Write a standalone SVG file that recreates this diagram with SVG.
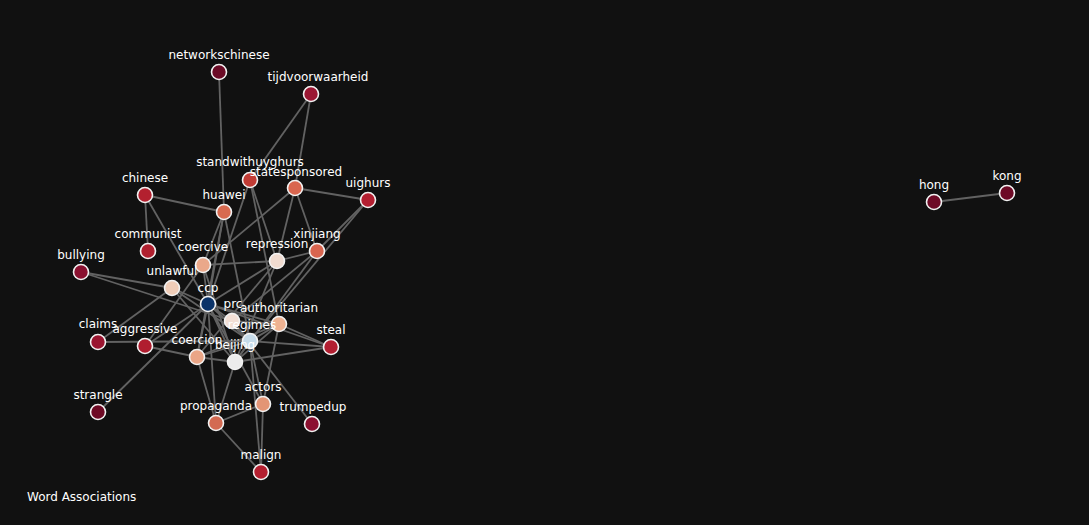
<svg xmlns="http://www.w3.org/2000/svg" width="1089" height="525" viewBox="0 0 1089 525">
<style>
.e{stroke:#626262;stroke-width:1.8;fill:none}
.n{stroke:#f2f2f2;stroke-width:1.6}
.t{font-family:"DejaVu Sans","Liberation Sans",sans-serif;font-size:12px;fill:#ffffff;text-anchor:middle}
.title{font-family:"DejaVu Sans","Liberation Sans",sans-serif;font-size:12px;fill:#ffffff}
</style>
<rect width="1089" height="525" fill="#111111"/>
<g id="edges">
<line class="e" x1="934" y1="202" x2="1007" y2="193"/>
<line class="e" x1="219" y1="72" x2="224" y2="212"/>
<line class="e" x1="311" y1="94" x2="250" y2="180"/>
<line class="e" x1="311" y1="94" x2="295" y2="188"/>
<line class="e" x1="145" y1="195" x2="224" y2="212"/>
<line class="e" x1="145" y1="195" x2="148" y2="251"/>
<line class="e" x1="145" y1="195" x2="208" y2="304"/>
<line class="e" x1="295" y1="188" x2="368" y2="200"/>
<line class="e" x1="295" y1="188" x2="317" y2="251"/>
<line class="e" x1="295" y1="188" x2="277" y2="261"/>
<line class="e" x1="295" y1="188" x2="203" y2="265"/>
<line class="e" x1="368" y1="200" x2="317" y2="251"/>
<line class="e" x1="368" y1="200" x2="250" y2="341"/>
<line class="e" x1="250" y1="180" x2="277" y2="261"/>
<line class="e" x1="250" y1="180" x2="208" y2="304"/>
<line class="e" x1="250" y1="180" x2="279" y2="324"/>
<line class="e" x1="224" y1="212" x2="203" y2="265"/>
<line class="e" x1="224" y1="212" x2="208" y2="304"/>
<line class="e" x1="224" y1="212" x2="250" y2="341"/>
<line class="e" x1="224" y1="212" x2="197" y2="357"/>
<line class="e" x1="317" y1="251" x2="277" y2="261"/>
<line class="e" x1="317" y1="251" x2="235" y2="362"/>
<line class="e" x1="317" y1="251" x2="232" y2="321"/>
<line class="e" x1="277" y1="261" x2="203" y2="265"/>
<line class="e" x1="277" y1="261" x2="208" y2="304"/>
<line class="e" x1="277" y1="261" x2="235" y2="362"/>
<line class="e" x1="277" y1="261" x2="197" y2="357"/>
<line class="e" x1="81" y1="272" x2="172" y2="288"/>
<line class="e" x1="81" y1="272" x2="232" y2="321"/>
<line class="e" x1="172" y1="288" x2="208" y2="304"/>
<line class="e" x1="172" y1="288" x2="250" y2="341"/>
<line class="e" x1="172" y1="288" x2="98" y2="342"/>
<line class="e" x1="172" y1="288" x2="235" y2="362"/>
<line class="e" x1="203" y1="265" x2="208" y2="304"/>
<line class="e" x1="203" y1="265" x2="235" y2="362"/>
<line class="e" x1="203" y1="265" x2="145" y2="346"/>
<line class="e" x1="98" y1="342" x2="250" y2="341"/>
<line class="e" x1="145" y1="346" x2="208" y2="304"/>
<line class="e" x1="145" y1="346" x2="197" y2="357"/>
<line class="e" x1="98" y1="412" x2="208" y2="304"/>
<line class="e" x1="208" y1="304" x2="232" y2="321"/>
<line class="e" x1="208" y1="304" x2="250" y2="341"/>
<line class="e" x1="208" y1="304" x2="235" y2="362"/>
<line class="e" x1="208" y1="304" x2="279" y2="324"/>
<line class="e" x1="208" y1="304" x2="331" y2="347"/>
<line class="e" x1="208" y1="304" x2="216" y2="423"/>
<line class="e" x1="208" y1="304" x2="263" y2="404"/>
<line class="e" x1="208" y1="304" x2="197" y2="357"/>
<line class="e" x1="232" y1="321" x2="250" y2="341"/>
<line class="e" x1="232" y1="321" x2="279" y2="324"/>
<line class="e" x1="232" y1="321" x2="312" y2="424"/>
<line class="e" x1="250" y1="341" x2="279" y2="324"/>
<line class="e" x1="250" y1="341" x2="331" y2="347"/>
<line class="e" x1="250" y1="341" x2="263" y2="404"/>
<line class="e" x1="250" y1="341" x2="261" y2="472"/>
<line class="e" x1="250" y1="341" x2="197" y2="357"/>
<line class="e" x1="250" y1="341" x2="235" y2="362"/>
<line class="e" x1="197" y1="357" x2="235" y2="362"/>
<line class="e" x1="197" y1="357" x2="216" y2="423"/>
<line class="e" x1="197" y1="357" x2="279" y2="324"/>
<line class="e" x1="235" y1="362" x2="216" y2="423"/>
<line class="e" x1="235" y1="362" x2="279" y2="324"/>
<line class="e" x1="235" y1="362" x2="331" y2="347"/>
<line class="e" x1="279" y1="324" x2="331" y2="347"/>
<line class="e" x1="279" y1="324" x2="263" y2="404"/>
<line class="e" x1="263" y1="404" x2="216" y2="423"/>
<line class="e" x1="263" y1="404" x2="261" y2="472"/>
<line class="e" x1="216" y1="423" x2="261" y2="472"/>
</g>
<g id="n-networkschinese"><circle class="n" cx="219" cy="72" r="7.5" fill="#6b0b26"/><text class="t" x="219" y="59">networkschinese</text></g>
<g id="n-tijdvoorwaarheid"><circle class="n" cx="311" cy="94" r="7.5" fill="#9b1733"/><text class="t" x="318" y="81">tijdvoorwaarheid</text></g>
<g id="n-standwithuyghurs"><circle class="n" cx="250" cy="180" r="7.5" fill="#c13c35"/><text class="t" x="250" y="166">standwithuyghurs</text></g>
<g id="n-statesponsored"><circle class="n" cx="295" cy="188" r="7.5" fill="#d9664f"/><text class="t" x="296" y="176">statesponsored</text></g>
<g id="n-uighurs"><circle class="n" cx="368" cy="200" r="7.5" fill="#b41f31"/><text class="t" x="368" y="187">uighurs</text></g>
<g id="n-chinese"><circle class="n" cx="145" cy="195" r="7.5" fill="#b3202f"/><text class="t" x="145" y="182">chinese</text></g>
<g id="n-huawei"><circle class="n" cx="224" cy="212" r="7.5" fill="#d86a50"/><text class="t" x="224" y="199">huawei</text></g>
<g id="n-communist"><circle class="n" cx="148" cy="251" r="7.5" fill="#b0202f"/><text class="t" x="148" y="238">communist</text></g>
<g id="n-coercive"><circle class="n" cx="203" cy="265" r="7.5" fill="#eaa88a"/><text class="t" x="203" y="251">coercive</text></g>
<g id="n-repression"><circle class="n" cx="277" cy="261" r="7.5" fill="#f0dbd0"/><text class="t" x="277" y="248">repression</text></g>
<g id="n-xinjiang"><circle class="n" cx="317" cy="251" r="7.5" fill="#d8654f"/><text class="t" x="317" y="238">xinjiang</text></g>
<g id="n-bullying"><circle class="n" cx="81" cy="272" r="7.5" fill="#8a1130"/><text class="t" x="81" y="259">bullying</text></g>
<g id="n-unlawful"><circle class="n" cx="172" cy="288" r="7.5" fill="#f0cdb8"/><text class="t" x="172" y="275">unlawful</text></g>
<g id="n-ccp"><circle class="n" cx="208" cy="304" r="7.5" fill="#0b3369"/><text class="t" x="208" y="292">ccp</text></g>
<g id="n-prc"><circle class="n" cx="232" cy="321" r="7.5" fill="#f2dfd5"/><text class="t" x="233" y="308">prc</text></g>
<g id="n-authoritarian"><circle class="n" cx="279" cy="324" r="7.5" fill="#eeb292"/><text class="t" x="279" y="312">authoritarian</text></g>
<g id="n-regimes"><circle class="n" cx="250" cy="341" r="7.5" fill="#c6dbe9"/><text class="t" x="252" y="329">regimes</text></g>
<g id="n-claims"><circle class="n" cx="98" cy="342" r="7.5" fill="#9a1530"/><text class="t" x="98" y="328">claims</text></g>
<g id="n-aggressive"><circle class="n" cx="145" cy="346" r="7.5" fill="#b01d2f"/><text class="t" x="145" y="333">aggressive</text></g>
<g id="n-coercion"><circle class="n" cx="197" cy="357" r="7.5" fill="#eaa586"/><text class="t" x="197" y="344">coercion</text></g>
<g id="n-beijing"><circle class="n" cx="235" cy="362" r="7.5" fill="#ececec"/><text class="t" x="235" y="349">beijing</text></g>
<g id="n-steal"><circle class="n" cx="331" cy="347" r="7.5" fill="#b21f31"/><text class="t" x="331" y="334">steal</text></g>
<g id="n-strangle"><circle class="n" cx="98" cy="412" r="7.5" fill="#6e0a25"/><text class="t" x="98" y="399">strangle</text></g>
<g id="n-actors"><circle class="n" cx="263" cy="404" r="7.5" fill="#e39575"/><text class="t" x="263" y="391">actors</text></g>
<g id="n-propaganda"><circle class="n" cx="216" cy="423" r="7.5" fill="#d36a52"/><text class="t" x="216" y="410">propaganda</text></g>
<g id="n-trumpedup"><circle class="n" cx="312" cy="424" r="7.5" fill="#8c1130"/><text class="t" x="313" y="411">trumpedup</text></g>
<g id="n-malign"><circle class="n" cx="261" cy="472" r="7.5" fill="#b41f30"/><text class="t" x="261" y="459">malign</text></g>
<g id="n-hong"><circle class="n" cx="934" cy="202" r="7.5" fill="#6d0a26"/><text class="t" x="934" y="189">hong</text></g>
<g id="n-kong"><circle class="n" cx="1007" cy="193" r="7.5" fill="#6d0a26"/><text class="t" x="1007" y="180">kong</text></g>
<text class="title" x="27" y="501">Word Associations</text>
</svg>
